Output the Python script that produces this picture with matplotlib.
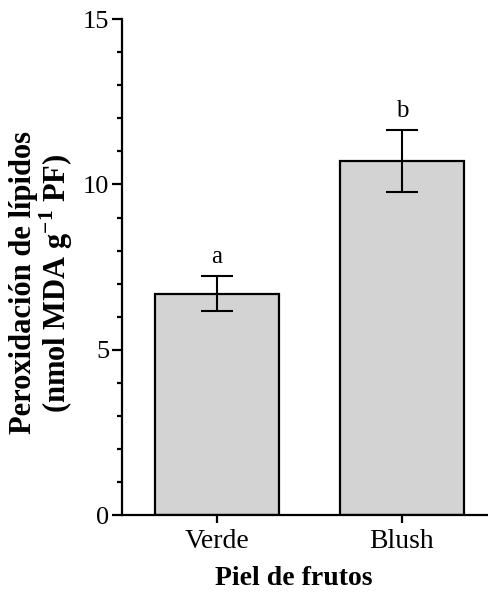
import numpy as np
import matplotlib.pyplot as plt

plt.rcParams['font.family'] = ['Liberation Serif', 'DejaVu Serif']
plt.rcParams['mathtext.fontset'] = 'custom'
plt.rcParams['mathtext.rm'] = 'Liberation Serif'
plt.rcParams['mathtext.bf'] = 'Liberation Serif:bold'

categories = ['Verde', 'Blush']
values = [6.7, 10.7]
errors = [0.52, 0.94]
letters = ['a', 'b']

fig = plt.figure(figsize=(4.88, 5.97), dpi=100)
ax = fig.add_axes([0.25, 0.137, 0.75, 0.831])

x = np.arange(len(categories))
ax.bar(x, values, width=0.67, color='#d3d3d3', edgecolor='black', linewidth=1.6, zorder=2)
ax.errorbar(x, values, yerr=errors, fmt='none', ecolor='black', elinewidth=1.5,
            capsize=11.5, capthick=1.5, zorder=3)
for xi, v, e, lab in zip(x, values, errors, letters):
    ax.text(xi, v + e + 0.25, lab, ha='center', va='bottom', fontsize=18)

ax.set_xlim(-0.514, 1.465)
ax.set_ylim(0, 15)
ax.set_yticks([0, 5, 10, 15])
ax.set_yticks(np.arange(0, 15, 1), minor=True)
ax.set_xticks(x)
ax.set_xticklabels(categories, fontsize=20)
ax.tick_params(axis='y', which='major', length=7, width=1.6, labelsize=19, pad=2)
ax.tick_params(axis='y', which='minor', length=3.5, width=1.6)
ax.tick_params(axis='x', which='major', length=6, width=1.6, pad=4)

for side in ['top', 'right']:
    ax.spines[side].set_visible(False)
for side in ['left', 'bottom']:
    ax.spines[side].set_linewidth(1.6)

ax.set_xlabel('Piel de frutos', fontsize=20, fontweight='bold')
ax.xaxis.set_label_coords(0.47, -0.102)
fig.text(42 / 488, 1 - 283 / 597,
         'Peroxidación de lípidos\n(nmol MDA g$^{\\mathbf{-1}}$ PF)',
         rotation=90, ha='center', va='center', fontsize=22, fontweight='bold',
         linespacing=1.0, multialignment='center')

fig.savefig('out.png', dpi=100)
